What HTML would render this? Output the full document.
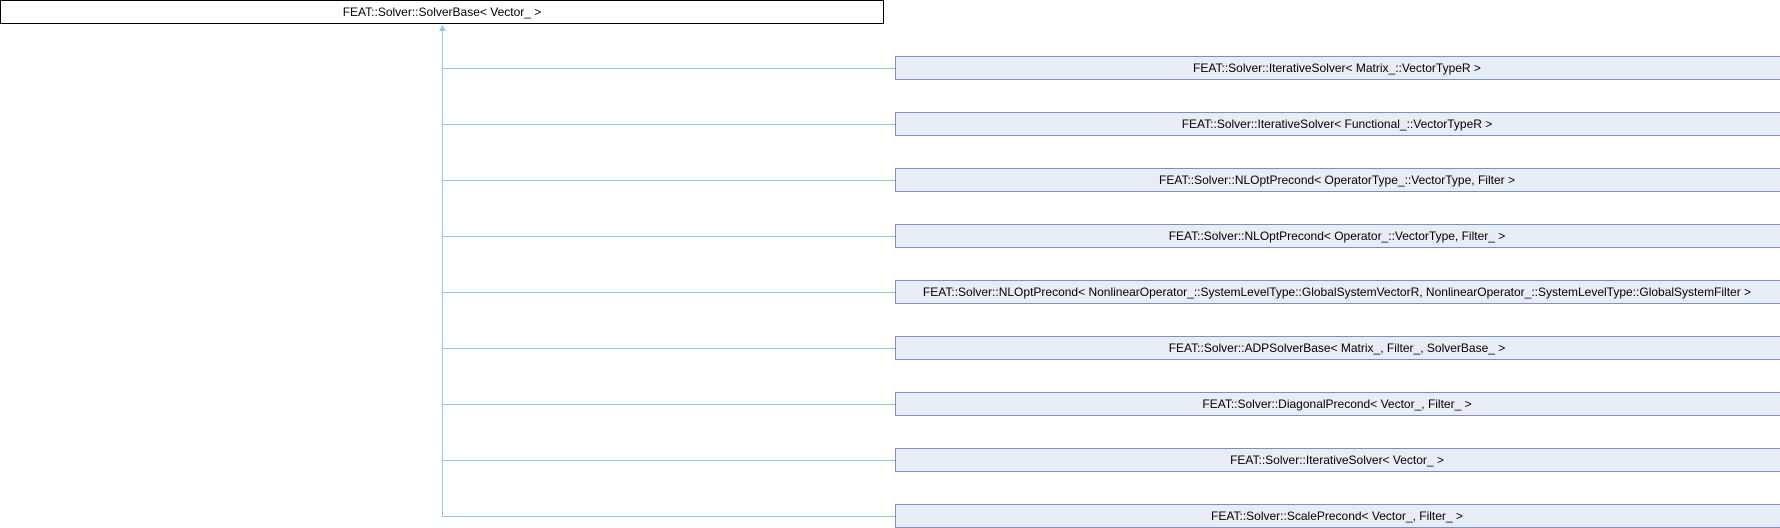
<!DOCTYPE html>
<html><head><style>html,body{margin:0;padding:0;background:#fff;width:1780px;height:528px;overflow:hidden}</style></head>
<body>
<svg width="1780" height="528" xmlns="http://www.w3.org/2000/svg" font-family="'Liberation Sans', sans-serif" font-size="12">
<rect x="0.5" y="0.5" width="883" height="23" fill="#fff" stroke="#000"/>
<text x="442" y="16" text-anchor="middle">FEAT::Solver::SolverBase&lt; Vector_ &gt;</text>
<line x1="442.5" y1="30" x2="442.5" y2="516.5" stroke="#8cc8e8"/>
<polygon points="442.5,25 439,31 446,31" fill="#8cc8e8"/>
<g stroke="#8cc8e8">
<line x1="442" y1="68.5" x2="895" y2="68.5"/>
<line x1="442" y1="124.5" x2="895" y2="124.5"/>
<line x1="442" y1="180.5" x2="895" y2="180.5"/>
<line x1="442" y1="236.5" x2="895" y2="236.5"/>
<line x1="442" y1="292.5" x2="895" y2="292.5"/>
<line x1="442" y1="348.5" x2="895" y2="348.5"/>
<line x1="442" y1="404.5" x2="895" y2="404.5"/>
<line x1="442" y1="460.5" x2="895" y2="460.5"/>
<line x1="442" y1="516.5" x2="895" y2="516.5"/>
</g>
<g fill="#e8ecf4" stroke="#7890c8">
<rect x="895.5" y="56.5" width="890" height="23"/>
<rect x="895.5" y="112.5" width="890" height="23"/>
<rect x="895.5" y="168.5" width="890" height="23"/>
<rect x="895.5" y="224.5" width="890" height="23"/>
<rect x="895.5" y="280.5" width="890" height="23"/>
<rect x="895.5" y="336.5" width="890" height="23"/>
<rect x="895.5" y="392.5" width="890" height="23"/>
<rect x="895.5" y="448.5" width="890" height="23"/>
<rect x="895.5" y="504.5" width="890" height="23"/>
</g>
<g text-anchor="middle">
<text x="1337" y="72">FEAT::Solver::IterativeSolver&lt; Matrix_::VectorTypeR &gt;</text>
<text x="1337" y="128">FEAT::Solver::IterativeSolver&lt; Functional_::VectorTypeR &gt;</text>
<text x="1337" y="184">FEAT::Solver::NLOptPrecond&lt; OperatorType_::VectorType, Filter &gt;</text>
<text x="1337" y="240">FEAT::Solver::NLOptPrecond&lt; Operator_::VectorType, Filter_ &gt;</text>
<text x="1337" y="296">FEAT::Solver::NLOptPrecond&lt; NonlinearOperator_::SystemLevelType::GlobalSystemVectorR, NonlinearOperator_::SystemLevelType::GlobalSystemFilter &gt;</text>
<text x="1337" y="352">FEAT::Solver::ADPSolverBase&lt; Matrix_, Filter_, SolverBase_ &gt;</text>
<text x="1337" y="408">FEAT::Solver::DiagonalPrecond&lt; Vector_, Filter_ &gt;</text>
<text x="1337" y="464">FEAT::Solver::IterativeSolver&lt; Vector_ &gt;</text>
<text x="1337" y="520">FEAT::Solver::ScalePrecond&lt; Vector_, Filter_ &gt;</text>
</g>
</svg>
</body></html>
